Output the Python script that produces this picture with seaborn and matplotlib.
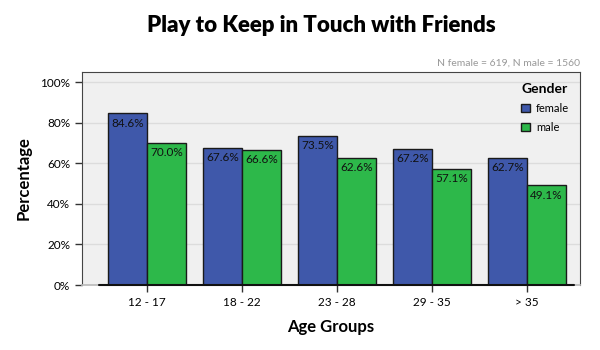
import matplotlib
matplotlib.use("Agg")
import matplotlib.pyplot as plt
import seaborn as sns
import pandas as pd
from matplotlib.ticker import FuncFormatter

age_groups = ["12 - 17", "18 - 22", "23 - 28", "29 - 35", "> 35"]
female = [84.6, 67.6, 73.5, 67.2, 62.7]
male = [70.0, 66.6, 62.6, 57.1, 49.1]
genders = ["female", "male"]

df = pd.DataFrame({
    "Age Groups": age_groups * 2,
    "Percentage": female + male,
    "Gender": ["female"] * len(age_groups) + ["male"] * len(age_groups),
})

sns.set_theme(style="white")
plt.rcParams["font.family"] = ["Lato", "DejaVu Sans"]
plt.rcParams["text.color"] = "black"
plt.rcParams["axes.labelcolor"] = "black"
plt.rcParams["xtick.color"] = "black"
plt.rcParams["ytick.color"] = "black"

fig = plt.figure(figsize=(6, 3.5), dpi=100)
ax = fig.add_axes([82/600, 1-285/350, (580-82)/600, (285-72)/350])

palette = {"female": "#3F58AA", "male": "#2DB84A"}
sns.barplot(data=df, x="Age Groups", y="Percentage", hue="Gender", hue_order=genders,
            order=age_groups, palette=palette, width=0.82, edgecolor="#1a1a1a",
            linewidth=1, saturation=1, ax=ax, zorder=3)

ax.set_facecolor("#F0F0F0")
ax.set_ylim(0, 105)
ax.set_xlim(-0.684, 4.56)
ax.set_yticks([0, 20, 40, 60, 80, 100])
ax.yaxis.set_major_formatter(FuncFormatter(lambda v, p: f"{int(v)}%"))
for y in [20, 40, 60, 80, 100]:
    ax.axhline(y, color="#DCDCDC", lw=1, zorder=1)
ax.tick_params(axis="both", direction="out", length=5, width=1, color="#333333",
               labelsize=8.5, labelcolor="black", bottom=True, left=True)
for s in ["left", "top", "right"]:
    ax.spines[s].set_color("#444444")
    ax.spines[s].set_linewidth(0.8)
ax.spines["bottom"].set_color("#bbbbbb")
ax.plot([-0.5, 4.5], [0, 0], color="#111111", lw=1.5, zorder=4, clip_on=False)

for cont in ax.containers:
    for bar in cont:
        h = bar.get_height()
        ax.annotate(f"{h:.1f}%", (bar.get_x() + bar.get_width()/2, h),
                    xytext=(0, -3), textcoords="offset points",
                    ha="center", va="top", fontsize=8.5, color="#111111", zorder=5)

ax.set_xlabel("Age Groups", fontsize=12, fontweight="bold", labelpad=8, color="black")
ax.set_ylabel("Percentage", fontsize=12, fontweight="bold", labelpad=6, color="black")
fig.text(321/600, 1-25/350, "Play to Keep in Touch with Friends", fontsize=16,
         fontweight="heavy", ha="center", va="center", color="black")
ax.text(1.0, 1.02, "N female = 619, N male = 1560", transform=ax.transAxes,
        ha="right", va="bottom", fontsize=7.5, color="#999999")

leg = ax.legend(title="Gender", loc="upper right", frameon=False, fontsize=8,
                title_fontproperties={"weight": "bold", "size": 10},
                handlelength=0.8, handleheight=0.8, borderaxespad=0.6,
                labelspacing=0.7, handletextpad=0.5)
for t in leg.get_texts():
    t.set_color("black")
leg.get_title().set_color("black")

fig.savefig("out.png", dpi=100)
